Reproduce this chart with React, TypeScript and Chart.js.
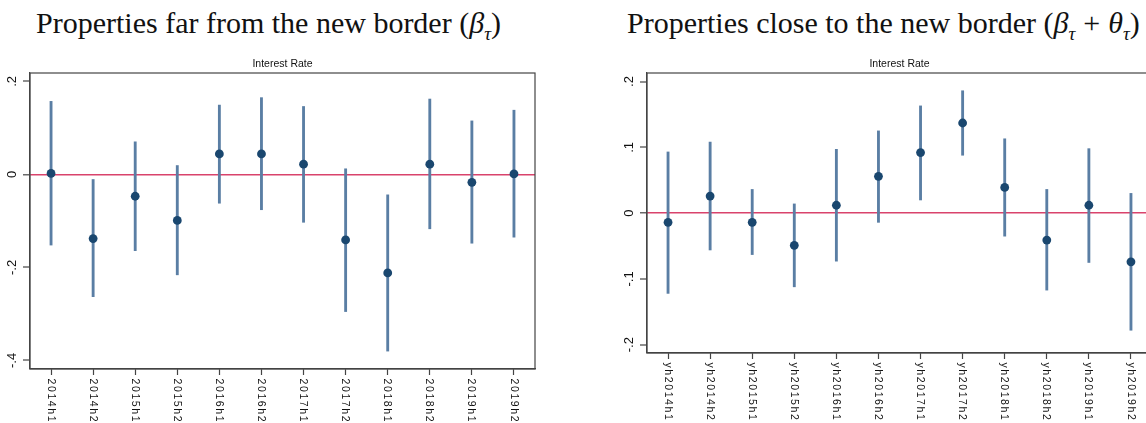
import React, { useEffect, useRef } from "react";
import { Chart, registerables } from "chart.js";

Chart.register(...registerables);

// ---- Data ----
const farLabels = ["2014h1", "2014h2", "2015h1", "2015h2", "2016h1", "2016h2", "2017h1", "2017h2", "2018h1", "2018h2", "2019h1", "2019h2"];
const farPoint = [0.002, -0.138, -0.047, -0.099, 0.044, 0.044, 0.022, -0.141, -0.212, 0.022, -0.017, 0.001];
const farLow = [-0.152, -0.263, -0.164, -0.216, -0.062, -0.076, -0.103, -0.295, -0.380, -0.117, -0.148, -0.135];
const farHigh = [0.157, -0.011, 0.070, 0.019, 0.149, 0.165, 0.146, 0.012, -0.044, 0.162, 0.115, 0.138];
const farYTicks = [-0.4, -0.2, 0, 0.2];
const farYTickLabels = ["-.4", "-.2", "0", ".2"];

const closeLabels = ["yh2014h1", "yh2014h2", "yh2015h1", "yh2015h2", "yh2016h1", "yh2016h2", "yh2017h1", "yh2017h2", "yh2018h1", "yh2018h2", "yh2019h1", "yh2019h2"];
const closePoint = [-0.014, 0.026, -0.014, -0.049, 0.012, 0.056, 0.092, 0.137, 0.039, -0.041, 0.012, -0.074];
const closeLow = [-0.122, -0.056, -0.063, -0.112, -0.073, -0.014, 0.020, 0.088, -0.035, -0.117, -0.075, -0.178];
const closeHigh = [0.093, 0.108, 0.036, 0.014, 0.097, 0.125, 0.163, 0.186, 0.113, 0.036, 0.098, 0.030];
const closeYTicks = [-0.2, -0.1, 0, 0.1, 0.2];
const closeYTickLabels = ["-.2", "-.1", "0", ".1", ".2"];

const subtitleText = "Interest Rate";

const NAVY = "#1a476f";
const CI = "#5a7ea4";
const RED = "#d9436c";
const AXIS = "#444444";

type PanelProps = {
  labels: string[];
  point: number[];
  low: number[];
  high: number[];
  yTicks: number[];
  yTickLabels: string[];
  yMin: number;
  yMax: number;
  xAxisHeight: number;
  left: number;
};

function Panel(p: PanelProps) {
  const ref = useRef<HTMLCanvasElement | null>(null);
  useEffect(() => {
    if (!ref.current) return;
    const decor = {
      id: "decor",
      afterDraw(chart: any) {
        const ctx = chart.ctx;
        const a = chart.chartArea;
        const xs = chart.scales.x;
        const ys = chart.scales.y;
        ctx.save();
        // box
        ctx.strokeStyle = AXIS;
        ctx.lineWidth = 1.2;
        ctx.strokeRect(a.left, a.top, a.right - a.left, a.bottom - a.top);
        // subtitle
        ctx.fillStyle = "#111";
        ctx.font = "10.5px 'Liberation Sans', Arial, sans-serif";
        ctx.textAlign = "center";
        ctx.textBaseline = "alphabetic";
        ctx.fillText(subtitleText, (a.left + a.right) / 2, a.top - 6.5);
        // y tick labels (rotated CCW)
        ctx.font = "13px 'Liberation Sans', Arial, sans-serif";
        ctx.textAlign = "center";
        ctx.textBaseline = "middle";
        p.yTicks.forEach((v, i) => {
          const y = ys.getPixelForValue(v);
          ctx.save();
          ctx.translate(a.left - 18, y);
          ctx.rotate(-Math.PI / 2);
          ctx.fillText(p.yTickLabels[i], 0, 0);
          ctx.restore();
        });
        // x tick labels (rotated CW)
        ctx.font = "10.5px 'Liberation Sans', Arial, sans-serif";
        (ctx as any).letterSpacing = "1.6px";
        ctx.textAlign = "left";
        ctx.textBaseline = "middle";
        p.labels.forEach((lab, i) => {
          const x = xs.getPixelForValue(i);
          ctx.save();
          ctx.translate(x - 0.5, a.bottom + 9.5);
          ctx.rotate(Math.PI / 2);
          ctx.fillText(lab, 0, 0);
          ctx.restore();
        });
        ctx.restore();
      },
    };
    const chart = new Chart(ref.current, {
      type: "bar",
      data: {
        labels: p.labels,
        datasets: [
          {
            type: "line",
            data: p.point,
            showLine: false,
            pointRadius: 4.4,
            pointHoverRadius: 4.4,
            pointBackgroundColor: NAVY,
            pointBorderWidth: 0,
            borderColor: NAVY,
            order: 0,
          } as any,
          {
            type: "bar",
            data: p.low.map((l, i) => [l, p.high[i]]),
            backgroundColor: CI,
            barThickness: 2.2,
            borderWidth: 0,
            order: 1,
          } as any,
        ],
      },
      options: {
        responsive: false,
        animation: false,
        devicePixelRatio: 1,
        layout: { padding: { top: 23, right: 10, left: 0, bottom: 0 } },
        plugins: { legend: { display: false }, tooltip: { enabled: false }, title: { display: false } },
        scales: {
          x: {
            type: "category",
            offset: true,
            grid: {
              offset: false,
              drawOnChartArea: false,
              drawTicks: true,
              tickLength: 6,
              tickColor: AXIS,
              tickWidth: 1.2,
            },
            border: { display: true, color: AXIS, width: 1.2 },
            ticks: { display: false },
            afterFit: (s: any) => {
              s.height = p.xAxisHeight;
            },
          },
          y: {
            type: "linear",
            min: p.yMin,
            max: p.yMax,
            afterBuildTicks: (s: any) => {
              s.ticks = p.yTicks.map((v) => ({ value: v }));
            },
            grid: {
              drawOnChartArea: true,
              drawTicks: true,
              tickLength: 7,
              tickColor: AXIS,
              tickWidth: 1.2,
              color: (c: any) => (c.tick && c.tick.value === 0 ? RED : "rgba(0,0,0,0)"),
              lineWidth: (c: any) => (c.tick && c.tick.value === 0 ? 1.6 : 0),
            },
            border: { display: true, color: AXIS, width: 1.2 },
            ticks: { display: false },
            afterFit: (s: any) => {
              s.width = 30;
            },
          },
        },
      },
      plugins: [decor],
    } as any);
    return () => chart.destroy();
  }, []);
  return (
    <canvas
      ref={ref}
      width={545}
      height={373}
      style={{ position: "absolute", left: p.left, top: 50, width: 545, height: 373 }}
    />
  );
}

const titleStyle: React.CSSProperties = {
  position: "absolute",
  top: 8,
  fontFamily: "'Liberation Serif', 'DejaVu Serif', serif",
  fontSize: 30,
  lineHeight: "30px",
  whiteSpace: "nowrap",
  color: "#111",
};

export default function App() {
  useEffect(() => {
    document.body.style.margin = "0";
  }, []);
  return (
    <div style={{ position: "fixed", left: 0, top: 0, width: 1146, height: 423, overflow: "hidden", background: "#fff" }}>
      <div style={{ ...titleStyle, left: 36 }}>
        Properties far from the new border (<i>β</i>
        <sub style={{ fontSize: 19 }}><i>τ</i></sub>)
      </div>
      <div style={{ ...titleStyle, left: 627 }}>
        Properties close to the new border (<i>β</i>
        <sub style={{ fontSize: 19 }}><i>τ</i></sub>
        <span style={{ margin: "0 8px" }}>+</span>
        <i>θ</i>
        <sub style={{ fontSize: 19 }}><i>τ</i></sub>)
      </div>
      <Panel
        labels={farLabels}
        point={farPoint}
        low={farLow}
        high={farHigh}
        yTicks={farYTicks}
        yTickLabels={farYTickLabels}
        yMin={-0.4185}
        yMax={0.218}
        xAxisHeight={54}
        left={0}
      />
      <Panel
        labels={closeLabels}
        point={closePoint}
        low={closeLow}
        high={closeHigh}
        yTicks={closeYTicks}
        yTickLabels={closeYTickLabels}
        yMin={-0.2126}
        yMax={0.213}
        xAxisHeight={70}
        left={617}
      />
    </div>
  );
}
